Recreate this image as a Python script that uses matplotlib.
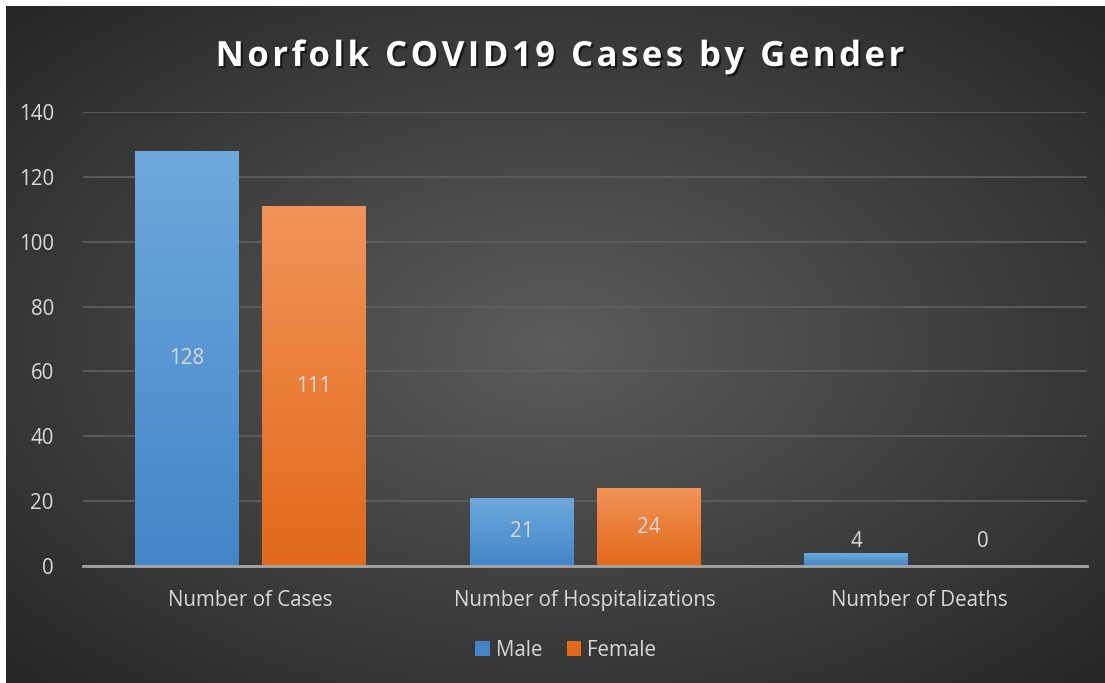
import numpy as np
import matplotlib.pyplot as plt
import matplotlib.patheffects as pe
from matplotlib.patches import Patch
from matplotlib.colors import LinearSegmentedColormap

plt.rcParams['font.family'] = ['Open Sans', 'DejaVu Sans']

# data
kategori = ['Number of Cases', 'Number of Hospitalizations', 'Number of Deaths']
male = [128, 21, 4]
female = [111, 24, 0]
judul = 'Norfolk COVID19 Cases by Gender'
tickerSumbuY = np.arange(0, 141, 20)

warnaTeks = '#d9d9d9'
biruAtas, biruBawah = '#6fa8dd', '#4286c8'
oranyeAtas, oranyeBawah = '#f29458', '#e2691a'

fig = plt.figure(figsize=(11.05, 6.83), dpi=100)
fig.patch.set_facecolor('white')

# radial gradient background (leave thin white strip left/top)
bg = fig.add_axes([6 / 1105, 0, 1 - 6 / 1105, 1 - 6 / 683])
bg.set_axis_off()
yy, xx = np.mgrid[-1:1:300j, -1:1:500j]
r = np.sqrt(xx ** 2 + yy ** 2) / np.sqrt(2)
c0 = np.array([0x5c, 0x5c, 0x5c]) / 255
c1 = np.array([0x26, 0x26, 0x26]) / 255
img = c0[None, None, :] * (1 - r[..., None]) + c1[None, None, :] * r[..., None]
bg.imshow(img, aspect='auto', extent=[0, 1, 0, 1])

ax = fig.add_axes([83 / 1105, 1 - 566 / 683, 1004 / 1105, (566 - 112) / 683])
ax.patch.set_alpha(0)

ind = np.arange(len(kategori))
width = 0.31
offset = 0.19


def gradient_bars(xs, vals, top, bottom):
    bars = ax.bar(xs, vals, width, color='none', zorder=3)
    grad = np.linspace(0, 1, 256)[:, None]
    cmap = LinearSegmentedColormap.from_list('g', [bottom, top])
    for b in bars:
        x0, y0 = b.get_x(), b.get_y()
        w, h = b.get_width(), b.get_height()
        if h <= 0:
            continue
        im = ax.imshow(grad, cmap=cmap, aspect='auto', origin='lower',
                       extent=[x0, x0 + w, y0, y0 + h], zorder=3)
        im.set_clip_path(b)
    return bars


gradient_bars(ind - offset, male, biruAtas, biruBawah)
gradient_bars(ind + offset, female, oranyeAtas, oranyeBawah)

ax.set_xlim(-0.5, 2.5)
ax.set_ylim(0, 140)
ax.set_yticks(tickerSumbuY)
ax.set_xticks(ind)
ax.set_xticklabels(kategori)
ax.yaxis.grid(True, color='#5e5e5e', lw=1.3, zorder=0)
ax.set_axisbelow(True)
for s in ['top', 'right', 'left']:
    ax.spines[s].set_visible(False)
ax.spines['bottom'].set_color('#a6a6a6')
ax.spines['bottom'].set_linewidth(2)
ax.spines['bottom'].set_zorder(4)
ax.tick_params(axis='both', length=0, colors=warnaTeks, labelsize=14.8)
ax.tick_params(axis='y', pad=21)
ax.tick_params(axis='x', pad=17)

# data labels (small bars get their label outside)
for xs, vals in [(ind - offset, male), (ind + offset, female)]:
    for x, v in zip(xs, vals):
        if v > 10:
            ax.text(x, v / 2, str(v), ha='center', va='center', color=warnaTeks,
                    fontsize=14.8, zorder=5)
        else:
            ax.text(x, 7.7, str(v), ha='center', va='center', color=warnaTeks,
                    fontsize=14.8, zorder=5)

# letter spacing for the title
judulSpasi = '\u200a'.join(judul)
fig.text(0.507, 1 - 57 / 683, judulSpasi, ha='center', va='center', color='white',
         fontsize=25, fontweight='bold',
         path_effects=[pe.withSimplePatchShadow(offset=(1.5, -1.5), shadow_rgbFace='black', alpha=0.6)])

handles = [Patch(facecolor=biruBawah, label='Male'),
           Patch(facecolor=oranyeBawah, label='Female')]
leg = fig.legend(handles=handles, loc='center', bbox_to_anchor=(0.512, 1 - 650 / 683),
                 ncol=2, frameon=False, fontsize=14.8, labelcolor=warnaTeks,
                 handlelength=0.7, handleheight=0.7, handletextpad=0.3, columnspacing=1.2)

fig.savefig('out.png', dpi=100)
